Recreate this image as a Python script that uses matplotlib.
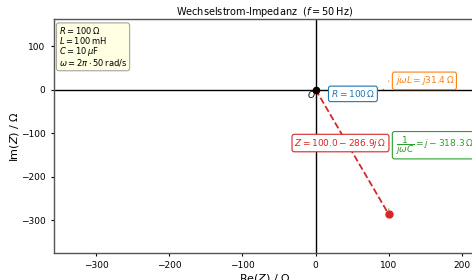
import numpy as np
import matplotlib
matplotlib.use("Agg")
import matplotlib.pyplot as plt

# values
R = 100.0
XL = 31.4
XC = -318.3
Z = (100.0, -286.9)
vec_tails = [(0.0, 0.0), (100.0, 0.0), (100.0, 31.4), (0.0, 0.0)]
vec_tips = [(100.0, 0.0), (100.0, 31.4), (100.0, -286.9), (100.0, -286.9)]
vec_colors = ["#1f77b4", "#ff7f0e", "#2ca02c", "#d62728"]
xticks = [-300, -200, -100, 0, 100, 200]
yticks = [-300, -200, -100, 0, 100]

fig = plt.figure(figsize=(4.72, 2.8), dpi=100)
ax = fig.add_axes([0.114, 0.096, 0.894, 0.836])
ax.set_xlim(-358, 219)
ax.set_ylim(-376, 162)

ax.axhline(0, color="black", lw=1.0, zorder=1)
ax.axvline(0, color="black", lw=1.0, zorder=1)

# tiny arrow heads at the tips
for (x0, y0), (x1, y1), c in zip(vec_tails, vec_tips, vec_colors):
    ax.annotate("", xy=(x1, y1), xytext=(x0, y0),
                arrowprops=dict(arrowstyle="-|>", color=c, lw=0.0,
                                mutation_scale=3, shrinkA=0, shrinkB=3),
                zorder=2)

ax.plot([0, Z[0]], [0, Z[1]], "--", color="#d62728", lw=1.3, zorder=3)
ax.plot([Z[0]], [Z[1]], "o", color="#d62728", ms=5, zorder=4)
ax.plot([0], [0], "o", color="black", ms=4.5, zorder=5)
ax.annotate("$O$", xy=(0, 0), xytext=(-3, -3.5), textcoords="offset points",
            ha="center", va="center", fontsize=6.5)

def box(txt, xy, c, ha="left"):
    ax.text(xy[0], xy[1], txt, color=c, fontsize=6.5, ha=ha, va="center",
            bbox=dict(boxstyle="round,pad=0.25", fc="white", ec=c, lw=0.8), zorder=6)

box(r"$R = 100\,\Omega$", (51, -10), vec_colors[0], ha="center")
box(r"$j\omega L = j31.4\,\Omega$", (108, 20), vec_colors[1])
box(r"$\dfrac{1}{j\omega C} = j - 318.3\,\Omega$", (108, -128), vec_colors[2])
box(r"$Z = 100.0 - 286.9j\,\Omega$", (34, -123), vec_colors[3], ha="center")

ax.text(0.012, 0.975,
        "$R = 100\\,\\Omega$\n$L = 100\\,$mH\n$C = 10\\,\\mu$F\n$\\omega = 2\\pi \\cdot 50\\,$rad/s",
        transform=ax.transAxes, ha="left", va="top", fontsize=6, linespacing=0.9,
        bbox=dict(boxstyle="round,pad=0.3", fc="lightyellow", ec="#999999", lw=0.8, alpha=0.9))

ax.set_xticks(xticks)
ax.set_yticks(yticks)
ax.tick_params(labelsize=6.5, length=2.5, width=0.8)
ax.set_xlabel(r"Re$(Z)$ / $\Omega$", fontsize=8, labelpad=1)
ax.set_ylabel(r"Im$(Z)$ / $\Omega$", fontsize=8, labelpad=0)
ax.set_title(r"Wechselstrom-Impedanz  ($f = 50\,$Hz)", fontsize=7, pad=3)
for s in ax.spines.values():
    s.set_color("#555555")
    s.set_linewidth(1.0)

fig.savefig("out.png", dpi=100)
